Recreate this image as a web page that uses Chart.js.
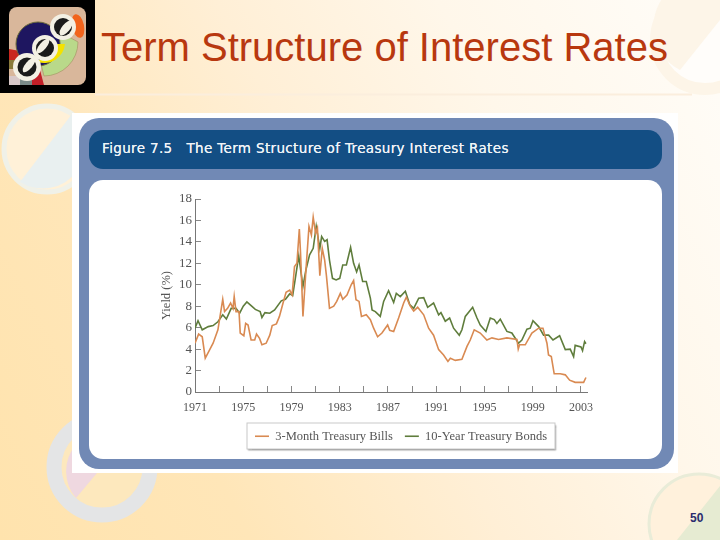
<!DOCTYPE html>
<html>
<head>
<meta charset="utf-8">
<script src="https://cdn.jsdelivr.net/npm/chart.js@4"></script>
<style>
html, body { margin: 0; padding: 0; }
body { width: 720px; height: 540px; overflow: hidden; position: relative;
  background: linear-gradient(62deg, #ffe3ad 0%, #ffe6b8 25%, #ffefd6 50%, #fff7ea 72%, #fffdf9 100%); }
#decor { position: absolute; left: 0; top: 0; }
#title { position: absolute; left: 101px; top: 25px; font: 40px "Liberation Sans", Arial, sans-serif; color: #b8380f; white-space: nowrap; }
#sheet { position: absolute; left: 72px; top: 113px; width: 606px; height: 360px; background: #fff; }
#panel { position: absolute; left: 79px; top: 118px; width: 595px; height: 351px; background: #7189b5; border-radius: 20px; }
#head { position: absolute; left: 89px; top: 130px; width: 573px; height: 39px; background: #134e84; border-radius: 14px;
  color: #f0f4f8; font: 13.5px "DejaVu Sans", sans-serif; line-height: 37px; white-space: pre; }
#head span { position: absolute; left: 13px; letter-spacing: 0.35px; text-shadow: 0 0 0.3px #f0f4f8; }
#inner { position: absolute; left: 89px; top: 180px; width: 573px; height: 279px; background: #fff; border-radius: 14px; }
#wrap { position: absolute; left: 150px; top: 180px; width: 502px; height: 272px; }
#page { position: absolute; left: 690px; top: 511px; font: bold 12px "Liberation Sans", Arial, sans-serif; color: #2b2c6e; }
</style>
</head>
<body>
<svg id="decor" width="720" height="540">
  <!-- faint circles behind the slide content -->
  <circle cx="47" cy="149" r="43" fill="#fff1d8" stroke="#f0f1e8" stroke-width="5"/>
  <path d="M20 182 L72 114 A43 43 0 0 1 20 182 Z" fill="#e9f0f0"/>
  <circle cx="102" cy="467" r="48" fill="#fde8bd" stroke="#e4e5e6" stroke-width="15"/>
  <path d="M76 498 L128 436 A41 41 0 0 0 76 498 Z" fill="#efd8e0"/>
  <circle cx="705" cy="40" r="49" fill="#fffdfa" stroke="#fdf5e8" stroke-width="12"/>
  <path d="M680 70 L720 20 L720 -10 L665 -5 A49 49 0 0 0 680 70 Z" fill="#fdf5e8"/>
  <circle cx="699" cy="524" r="50" fill="#fff1dc" stroke="#e9ecd8" stroke-width="3"/>
  <path d="M677 540 L720 486 L720 540 Z" fill="#e6ebd2"/>
  <line x1="95" y1="94.5" x2="692" y2="94.5" stroke="#fbeedd" stroke-width="2"/>
  <!-- logo -->
  <rect x="0" y="0" width="95" height="93" fill="#000"/>
  <rect x="9" y="7" width="77" height="78" rx="8" fill="#d9b79b"/>
  <path d="M9 49 L20 51 L20 60 L9 60 Z" fill="#c9271f"/>
  <path d="M9 60 L15 60 L15 69 L9 69 Z" fill="#8a7a3a"/>
  <path d="M9 76 L20 76 L20 85 L9 85 Z" fill="#d8c8c8"/>
  <path d="M20 78 L32 78 L32 85 L20 85 Z" fill="#7a8a88"/>
  <path d="M32 76 L40 70 L44 85 L32 85 Z" fill="#c21f28"/>
  <path d="M44 76 A34 34 0 0 0 78 42 L60 32 L40 60 Z" fill="#b9d98a" stroke="#a89868" stroke-width="0.7"/>
  <circle cx="38" cy="44" r="22" fill="#1e1660" stroke="#6a6a3a" stroke-width="1"/>
  <path d="M38 62 A21 21 0 0 0 65 44 L50 44 Z" fill="#f4e200"/>
  <ellipse cx="78" cy="26" rx="6" ry="12" fill="#f2641c" transform="rotate(-12 78 26)"/>
  <circle cx="63" cy="27" r="13" fill="#f3f0e4"/><circle cx="63" cy="27" r="9" fill="#1a1a1a"/>
  <circle cx="45" cy="48" r="13" fill="#f3f0e4"/><circle cx="45" cy="48" r="9" fill="#1a1a1a"/>
  <circle cx="27" cy="67" r="14" fill="#f3f0e4"/><circle cx="27" cy="67" r="9.5" fill="#1a1a1a"/>
  <ellipse cx="66" cy="28" rx="4" ry="9" fill="#f3f0e4" transform="rotate(40 66 28)"/>
  <ellipse cx="43" cy="46" rx="3.5" ry="9" fill="#f3f0e4" transform="rotate(40 43 46)"/>
  <ellipse cx="29" cy="65" rx="3.5" ry="9" fill="#f3f0e4" transform="rotate(40 29 65)"/>
</svg>
<div id="title">Term Structure of Interest Rates</div>
<div id="sheet"></div>
<div id="panel"></div>
<div id="head"><span>Figure 7.5   The Term Structure of Treasury Interest Rates</span></div>
<div id="inner"></div>
<div id="wrap"><canvas id="termChart"></canvas></div>
<div id="page">50</div>
<script>
// values, decimal years
var billYears = [1971,1971.3,1971.6,1971.85,1972.2,1972.5,1972.9,1973.3,1973.45,1973.7,1973.95,1974.15,1974.25,1974.4,1974.65,1974.75,1975.05,1975.2,1975.4,1975.65,1975.95,1976.1,1976.35,1976.55,1976.9,1977.2,1977.4,1977.75,1978,1978.3,1978.55,1978.85,1979.05,1979.25,1979.45,1979.65,1979.75,1979.95,1980.2,1980.45,1980.65,1980.8,1981,1981.15,1981.35,1981.55,1981.75,1981.9,1982.15,1982.5,1982.75,1983.05,1983.25,1983.6,1983.95,1984.15,1984.35,1984.6,1984.8,1985.2,1985.54,1985.81,1986.14,1986.5,1986.97,1987.14,1987.47,1987.88,1988.3,1988.52,1988.85,1989.13,1989.46,1989.96,1990.37,1990.78,1991.2,1991.61,1991.97,1992.17,1992.58,1993.13,1993.55,1993.82,1994.15,1994.65,1995.2,1995.62,1996.17,1996.86,1997.69,1997.8,1997.91,1998.38,1998.93,1999.49,1999.85,2000.18,2000.31,2000.54,2000.78,2001.28,2001.7,2002.06,2002.52,2003.22,2003.41];
var billRates = [4.55,5.4,5.15,3.15,3.9,4.55,5.8,8.65,7.5,7.8,8.3,7.8,8.9,7.5,7.5,5.5,5.25,6.4,6.25,4.85,4.85,5.4,5,4.4,4.55,5.3,6.2,6.35,7.05,8.3,9.3,9.5,9.05,11.7,12,15.2,12.95,7.05,11.4,15.45,14.65,16.3,14.8,15.3,10.85,13.4,12.3,10.8,7.8,8,8.45,9.2,8.65,9.05,10,10.4,8.6,8.45,7.05,7.2,6.75,5.95,5.15,5.5,6.25,5.75,5.65,6.9,8.3,8.85,8,7.55,7.9,7.2,5.95,5.3,3.95,3.45,2.85,3.15,2.95,3.05,4.25,4.85,5.8,5.5,4.85,5.05,4.9,5.05,4.9,4,4.4,4.4,5.5,5.95,5.95,4.55,3.45,3.3,1.7,1.7,1.6,1.1,0.9,0.9,1.35];
var bondYears = [1971,1971.25,1971.6,1972.1,1972.5,1972.9,1973.3,1973.6,1974,1974.4,1974.7,1975,1975.3,1975.7,1976,1976.4,1976.55,1976.8,1977.2,1977.6,1978.15,1978.5,1978.85,1979.1,1979.3,1979.6,1979.95,1980.2,1980.5,1980.8,1981.05,1981.35,1981.5,1981.75,1981.95,1982.15,1982.4,1982.7,1983,1983.25,1983.55,1983.9,1984.15,1984.4,1984.6,1984.9,1985.2,1985.54,1985.68,1985.95,1986.36,1986.64,1987.05,1987.47,1987.69,1988.02,1988.44,1988.8,1989.13,1989.55,1989.96,1990.29,1990.78,1991.2,1991.39,1991.75,1992.11,1992.44,1992.91,1993.13,1993.41,1994.02,1994.38,1994.65,1995.12,1995.48,1995.81,1996.03,1996.31,1996.86,1997.27,1997.82,1998.1,1998.52,1998.79,1999.02,1999.49,1999.9,2000.32,2000.68,2001.23,2001.7,2002.11,2002.39,2002.52,2003,2003.13,2003.3,2003.41];
var bondRates = [5.95,6.65,5.8,6.1,6.2,6.55,7.2,6.8,7.8,7.8,7.35,8,8.4,8,7.7,7.5,6.95,7.4,7.35,7.65,8.5,8.65,9.15,9,10.45,12.7,9.85,11.4,12.8,13.4,15.45,13.4,14.5,14.05,14.2,12.3,10.6,10.45,10.6,11.85,11.85,13.5,12,11.2,11.85,10.3,10.3,8.75,7.65,7.5,7.05,8.45,9.45,8.35,9.2,8.9,9.4,8.15,7.8,8.75,8.8,7.9,8.3,7.2,7.4,6.6,6.9,5.95,5.3,5.8,7.05,7.9,6.9,6.25,5.65,6.9,6.75,6.4,6.8,5.65,5.5,4.55,4.85,5.85,5.95,6.65,6.1,5.3,5.3,4.85,5.25,3.95,4,3.3,4.35,4.2,3.85,4.7,4.5];
var tickYears = [1971,1973,1975,1977,1979,1981,1983,1985,1987,1989,1991,1993,1995,1997,1999,2001,2003];
var labelYears = [1971,1975,1979,1983,1987,1991,1995,1999,2003];
var billsName = '3-Month Treasury Bills';
var bondsName = '10-Year Treasury Bonds';

function pairs(xs, ys) {
    return xs.map(function(x, i) { return {x: x, y: ys[i]}; });
}

// box with a soft shadow around the legend items, 5px inside the legend's own top
var legendBox = {
    id: 'legendBox',
    beforeDraw: function(chart) {
        var l = chart.legend, c = chart.ctx, boxes = l.legendHitBoxes;
        var last = boxes[boxes.length - 1];
        var left = boxes[0].left - 8;
        var width = last.left + last.width + 8 - left;
        var top = l.top + 5;
        var height = l.height - 5;
        c.save();
        c.shadowColor = 'rgba(0,0,0,0.45)';
        c.shadowOffsetX = 1;
        c.shadowOffsetY = 1.5;
        c.shadowBlur = 1.5;
        c.fillStyle = '#fff';
        c.fillRect(left, top, width, height);
        c.restore();
        c.strokeStyle = '#c9c9c9';
        c.strokeRect(left, top, width, height);
    }
};

var serif = '"Liberation Serif", "DejaVu Serif", serif';

new Chart(document.getElementById('termChart').getContext('2d'), {
    type: 'line',
    data: {
        datasets: [
            {label: billsName, data: pairs(billYears, billRates), borderColor: '#d98a52', backgroundColor: '#d98a52', borderWidth: 1.6, pointRadius: 0, tension: 0},
            {label: bondsName, data: pairs(bondYears, bondRates), borderColor: '#5f7d3c', backgroundColor: '#5f7d3c', borderWidth: 1.6, pointRadius: 0, tension: 0}
        ]
    },
    options: {
        responsive: true,
        maintainAspectRatio: false,
        animation: false,
        layout: {padding: {left: 0, right: 0, top: 19, bottom: 3}},
        plugins: {
            title: {display: false},
            tooltip: {enabled: false},
            legend: {
                position: 'bottom',
                maxHeight: 31,
                labels: {
                    usePointStyle: true,
                    pointStyle: 'line',
                    pointStyleWidth: 14,
                    color: '#555',
                    padding: 12,
                    font: {family: serif, size: 12.5}
                }
            }
        },
        scales: {
            x: {
                type: 'linear',
                min: 1971,
                max: 2003.5,
                afterBuildTicks: function(scale) {
                    scale.ticks = tickYears.map(function(v) { return {value: v}; });
                },
                afterFit: function(scale) { scale.height = 26; },
                border: {color: '#777', width: 1},
                grid: {drawOnChartArea: false, color: '#888', tickLength: -6},
                ticks: {
                    autoSkip: false,
                    maxRotation: 0,
                    padding: 15,
                    color: '#555',
                    font: {family: serif, size: 12},
                    callback: function(value) {
                        return labelYears.indexOf(value) >= 0 ? String(value) : '';
                    }
                }
            },
            y: {
                min: 0,
                max: 18,
                afterFit: function(scale) { scale.width = 45; },
                title: {display: true, text: 'Yield (%)', color: '#555', padding: {top: 9, bottom: 0}, font: {family: serif, size: 12.5}},
                border: {color: '#777', width: 1},
                grid: {drawOnChartArea: false, color: '#888', tickLength: -6},
                ticks: {stepSize: 2, padding: 9, color: '#555', font: {family: serif, size: 13}}
            },
            // empty right axis, keeps the legend centred under the figure
            spacer: {
                position: 'right',
                afterFit: function(scale) { scale.width = 65; },
                border: {display: false},
                grid: {display: false},
                ticks: {display: false}
            }
        }
    },
    plugins: [legendBox]
});
</script>
</body>
</html>
